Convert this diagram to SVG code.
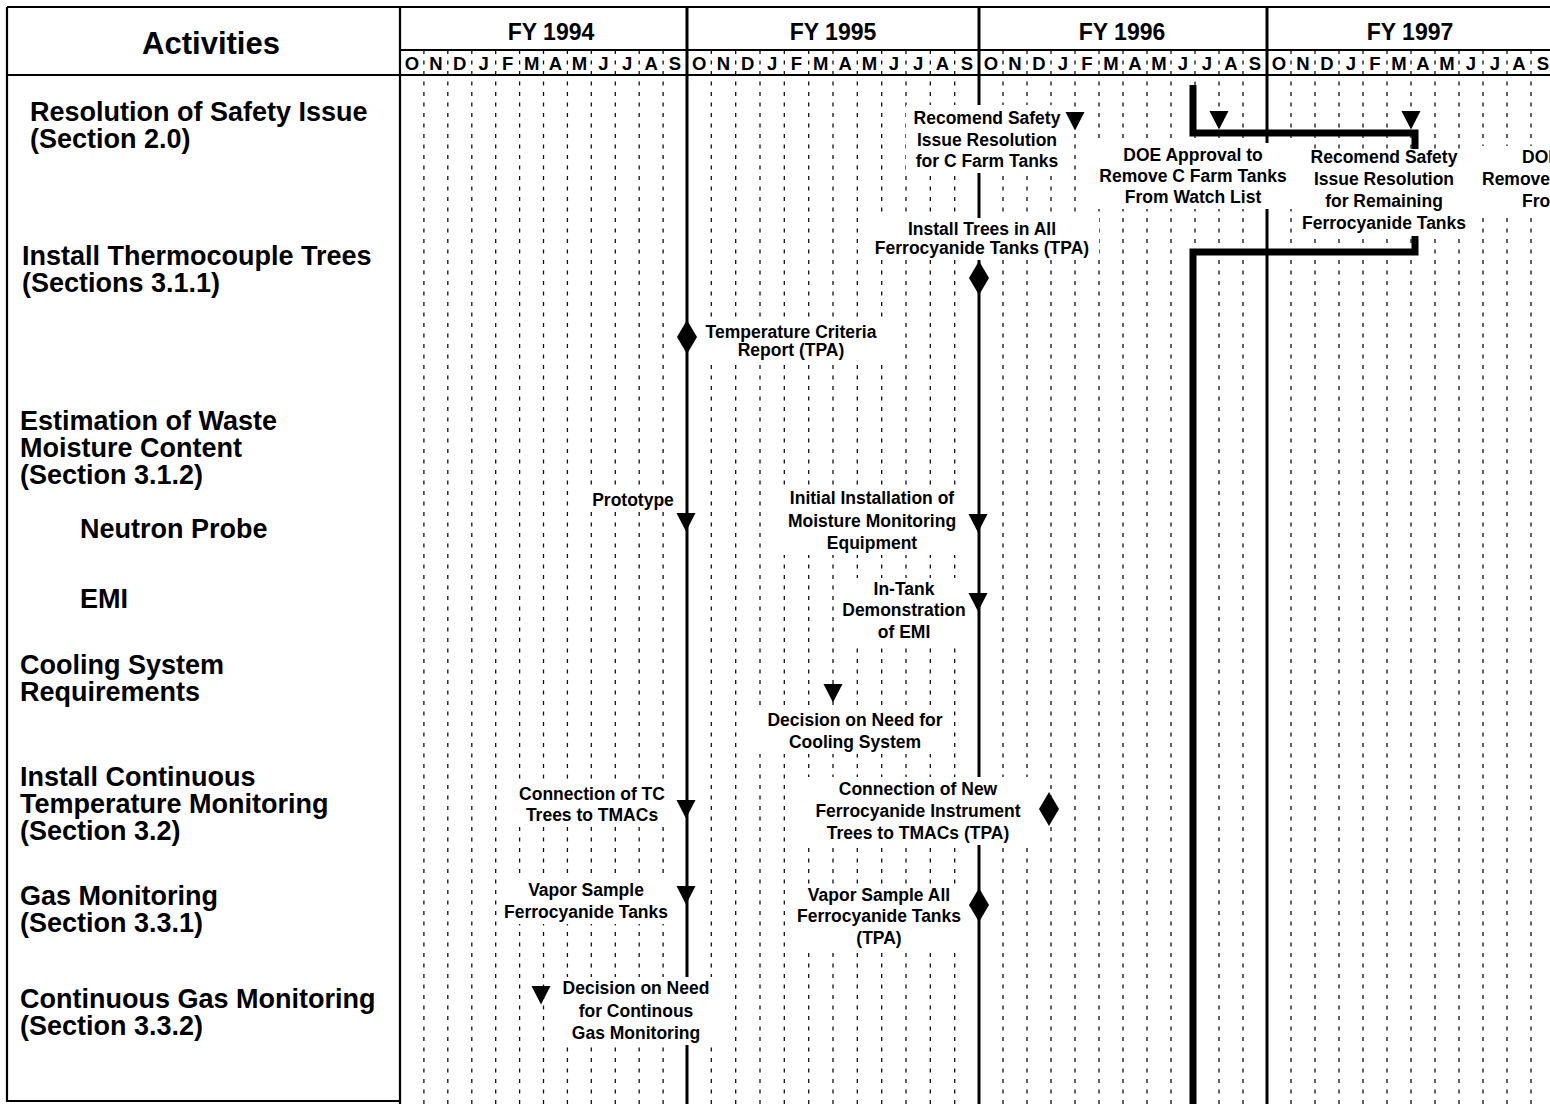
<svg xmlns="http://www.w3.org/2000/svg" xmlns:xlink="http://www.w3.org/1999/xlink" width="1550" height="1104" viewBox="0 0 1550 1104">
<style>
text { font-family: "Liberation Sans", Arial, Helvetica, sans-serif; font-weight: bold; fill: #000; }
.hdr { font-size: 31px; text-anchor: middle; }
.fy { font-size: 23px; text-anchor: middle; }
.mo { font-size: 18.5px; text-anchor: middle; }
.act { font-size: 27px; }
.lbl { font-size: 17.5px; text-anchor: middle; }
.lbs { font-size: 17.5px; }
.grid { stroke: #111; stroke-width: 1.3; stroke-dasharray: 4 6.5; fill: none; }
.frame { stroke: #000; stroke-width: 2.2; fill: none; }
.tl { stroke: #000; stroke-width: 3; fill: none; }
.bar { stroke: #000; stroke-width: 7; fill: none; stroke-linejoin: miter; }
.mask { fill: #fff; stroke: none; }
</style>
<defs>
<path id="tri" d="M-9.5,0 L9.5,0 L0,18.5 Z" fill="#000"/>
<path id="dia" d="M0,-17 L10,0 L0,17 L-10,0 Z" fill="#000"/>
<clipPath id="pg"><rect x="0" y="0" width="1550" height="1104"/></clipPath>
</defs>
<rect x="0" y="0" width="1550" height="1104" fill="#fff"/>

<g id="grid">
<path class="grid" d="M423.9,50V1104M447.8,50V1104M471.8,50V1104M495.7,50V1104M519.6,50V1104M543.5,50V1104M567.4,50V1104M591.3,50V1104M615.3,50V1104M639.2,50V1104M663.1,50V1104
M711.3,50V1104M735.7,50V1104M760,50V1104M784.3,50V1104M808.7,50V1104M833,50V1104M857.3,50V1104M881.7,50V1104M906,50V1104M930.3,50V1104M954.7,50V1104
M1003,50V1104M1027,50V1104M1051,50V1104M1075,50V1104M1099,50V1104M1123,50V1104M1147,50V1104M1171,50V1104M1195,50V1104M1219,50V1104M1243,50V1104
M1291,50V1104M1315,50V1104M1339,50V1104M1363,50V1104M1387,50V1104M1411,50V1104M1435,50V1104M1459,50V1104M1483,50V1104M1507,50V1104M1531,50V1104"/>
</g>

<g id="frame">
<path class="frame" d="M7,7H1550M7,7V1101H400M400,7V1104M7,75H1550M400,50H1550"/>
<path class="tl" d="M687,7V1104M979,7V1104M1267,7V1104"/>
</g>

<g id="header">
<text class="hdr" x="211" y="54">Activities</text>
<text class="fy" x="551" y="40">FY 1994</text>
<text class="fy" x="833" y="40">FY 1995</text>
<text class="fy" x="1122" y="40">FY 1996</text>
<text class="fy" x="1410" y="40">FY 1997</text>
</g>

<g id="months">
<text class="mo" x="412" y="70">O</text><text class="mo" x="435.9" y="70">N</text><text class="mo" x="459.8" y="70">D</text><text class="mo" x="483.7" y="70">J</text><text class="mo" x="507.7" y="70">F</text><text class="mo" x="531.6" y="70">M</text><text class="mo" x="555.5" y="70">A</text><text class="mo" x="579.4" y="70">M</text><text class="mo" x="603.3" y="70">J</text><text class="mo" x="627.2" y="70">J</text><text class="mo" x="651.1" y="70">A</text><text class="mo" x="675" y="70">S</text>
<text class="mo" x="699.2" y="70">O</text><text class="mo" x="723.5" y="70">N</text><text class="mo" x="747.8" y="70">D</text><text class="mo" x="772.2" y="70">J</text><text class="mo" x="796.5" y="70">F</text><text class="mo" x="820.8" y="70">M</text><text class="mo" x="845.2" y="70">A</text><text class="mo" x="869.5" y="70">M</text><text class="mo" x="893.8" y="70">J</text><text class="mo" x="918.2" y="70">J</text><text class="mo" x="942.5" y="70">A</text><text class="mo" x="966.8" y="70">S</text>
<text class="mo" x="991" y="70">O</text><text class="mo" x="1015" y="70">N</text><text class="mo" x="1039" y="70">D</text><text class="mo" x="1063" y="70">J</text><text class="mo" x="1087" y="70">F</text><text class="mo" x="1111" y="70">M</text><text class="mo" x="1135" y="70">A</text><text class="mo" x="1159" y="70">M</text><text class="mo" x="1183" y="70">J</text><text class="mo" x="1207" y="70">J</text><text class="mo" x="1231" y="70">A</text><text class="mo" x="1255" y="70">S</text>
<text class="mo" x="1279" y="70">O</text><text class="mo" x="1303" y="70">N</text><text class="mo" x="1327" y="70">D</text><text class="mo" x="1351" y="70">J</text><text class="mo" x="1375" y="70">F</text><text class="mo" x="1399" y="70">M</text><text class="mo" x="1423" y="70">A</text><text class="mo" x="1447" y="70">M</text><text class="mo" x="1471" y="70">J</text><text class="mo" x="1495" y="70">J</text><text class="mo" x="1519" y="70">A</text><text class="mo" x="1543" y="70">S</text>
</g>

<g id="activities">
<text class="act" x="30" y="121">Resolution of Safety Issue</text>
<text class="act" x="30" y="148">(Section 2.0)</text>
<text class="act" x="22" y="265">Install Thermocouple Trees</text>
<text class="act" x="22" y="292">(Sections 3.1.1)</text>
<text class="act" x="20" y="430">Estimation of Waste</text>
<text class="act" x="20" y="457">Moisture Content</text>
<text class="act" x="20" y="484">(Section 3.1.2)</text>
<text class="act" x="80" y="538">Neutron Probe</text>
<text class="act" x="80" y="608">EMI</text>
<text class="act" x="20" y="674">Cooling System</text>
<text class="act" x="20" y="701">Requirements</text>
<text class="act" x="20" y="786">Install Continuous</text>
<text class="act" x="20" y="813">Temperature Monitoring</text>
<text class="act" x="20" y="840">(Section 3.2)</text>
<text class="act" x="20" y="905">Gas Monitoring</text>
<text class="act" x="20" y="932">(Section 3.3.1)</text>
<text class="act" x="20" y="1008">Continuous Gas Monitoring</text>
<text class="act" x="20" y="1035">(Section 3.3.2)</text>
</g>

<g id="connectors">
<path class="bar" d="M1193,85V133H1415V149"/>
<path class="bar" d="M1415,236V252H1193V1104"/>
</g>

<g id="m1"><rect class="mask" x="906" y="105" width="162" height="68"/>
<text class="lbl" x="987" y="124">Recomend Safety</text><text class="lbl" x="987" y="146">Issue Resolution</text><text class="lbl" x="987" y="167">for C Farm Tanks</text>
<use xlink:href="#tri" x="1075" y="112"/></g>

<g id="m2"><rect class="mask" x="1092" y="143" width="201" height="66"/>
<text class="lbl" x="1193" y="161">DOE Approval to</text><text class="lbl" x="1193" y="182">Remove C Farm Tanks</text><text class="lbl" x="1193" y="203">From Watch List</text>
<use xlink:href="#tri" x="1219" y="111"/></g>

<g id="m3"><rect class="mask" x="1295" y="150" width="178" height="83"/>
<text class="lbl" x="1384" y="163">Recomend Safety</text><text class="lbl" x="1384" y="185">Issue Resolution</text><text class="lbl" x="1384" y="207">for Remaining</text><text class="lbl" x="1384" y="229">Ferrocyanide Tanks</text>
<use xlink:href="#tri" x="1411" y="111"/></g>

<g id="m4" clip-path="url(#pg)"><rect class="mask" x="1478" y="146" width="72" height="67"/>
<text class="lbs" x="1522" y="163">DOE</text><text class="lbs" x="1482" y="185">Remove</text><text class="lbs" x="1522" y="207">Fro</text></g>

<g id="m5"><rect class="mask" x="866" y="218" width="233" height="42"/>
<text class="lbl" x="982" y="235">Install Trees in All</text><text class="lbl" x="982" y="254">Ferrocyanide Tanks (TPA)</text>
<use xlink:href="#dia" x="979" y="278"/></g>

<g id="m6"><rect class="mask" x="698" y="322" width="186" height="40"/>
<text class="lbl" x="791" y="338">Temperature Criteria</text><text class="lbl" x="791" y="356">Report (TPA)</text>
<use xlink:href="#dia" x="687" y="337"/></g>

<g id="m7"><rect class="mask" x="587" y="490" width="92" height="22"/>
<text class="lbl" x="633" y="506">Prototype</text>
<use xlink:href="#tri" x="686" y="513"/></g>

<g id="m8"><rect class="mask" x="780" y="487" width="184" height="68"/>
<text class="lbl" x="872" y="504">Initial Installation of</text><text class="lbl" x="872" y="527">Moisture Monitoring</text><text class="lbl" x="872" y="549">Equipment</text>
<use xlink:href="#tri" x="978" y="514"/></g>

<g id="m9"><rect class="mask" x="836" y="578" width="136" height="66"/>
<text class="lbl" x="904" y="595">In-Tank</text><text class="lbl" x="904" y="616">Demonstration</text><text class="lbl" x="904" y="638">of EMI</text>
<use xlink:href="#tri" x="978" y="593"/></g>

<g id="m10"><rect class="mask" x="759" y="709" width="192" height="45"/>
<text class="lbl" x="855" y="726">Decision on Need for</text><text class="lbl" x="855" y="748">Cooling System</text>
<use xlink:href="#tri" x="833" y="684"/></g>

<g id="m11"><rect class="mask" x="513" y="783" width="158" height="44"/>
<text class="lbl" x="592" y="800">Connection of TC</text><text class="lbl" x="592" y="821">Trees to TMACs</text>
<use xlink:href="#tri" x="686" y="800"/></g>

<g id="m12"><rect class="mask" x="806" y="777" width="224" height="68"/>
<text class="lbl" x="918" y="795">Connection of New</text><text class="lbl" x="918" y="817">Ferrocyanide Instrument</text><text class="lbl" x="918" y="839">Trees to TMACs (TPA)</text>
<use xlink:href="#dia" x="1049" y="809"/></g>

<g id="m13"><rect class="mask" x="498" y="879" width="177" height="45"/>
<text class="lbl" x="586" y="896">Vapor Sample</text><text class="lbl" x="586" y="918">Ferrocyanide Tanks</text>
<use xlink:href="#tri" x="686" y="886"/></g>

<g id="m14"><rect class="mask" x="789" y="884" width="179" height="66"/>
<text class="lbl" x="879" y="901">Vapor Sample All</text><text class="lbl" x="879" y="922">Ferrocyanide Tanks</text><text class="lbl" x="879" y="944">(TPA)</text>
<use xlink:href="#dia" x="979" y="905"/></g>

<g id="m15"><rect class="mask" x="557" y="977" width="159" height="68"/>
<text class="lbl" x="636" y="994">Decision on Need</text><text class="lbl" x="636" y="1017">for Continous</text><text class="lbl" x="636" y="1039">Gas Monitoring</text>
<use xlink:href="#tri" x="541" y="986"/></g>
</svg>
